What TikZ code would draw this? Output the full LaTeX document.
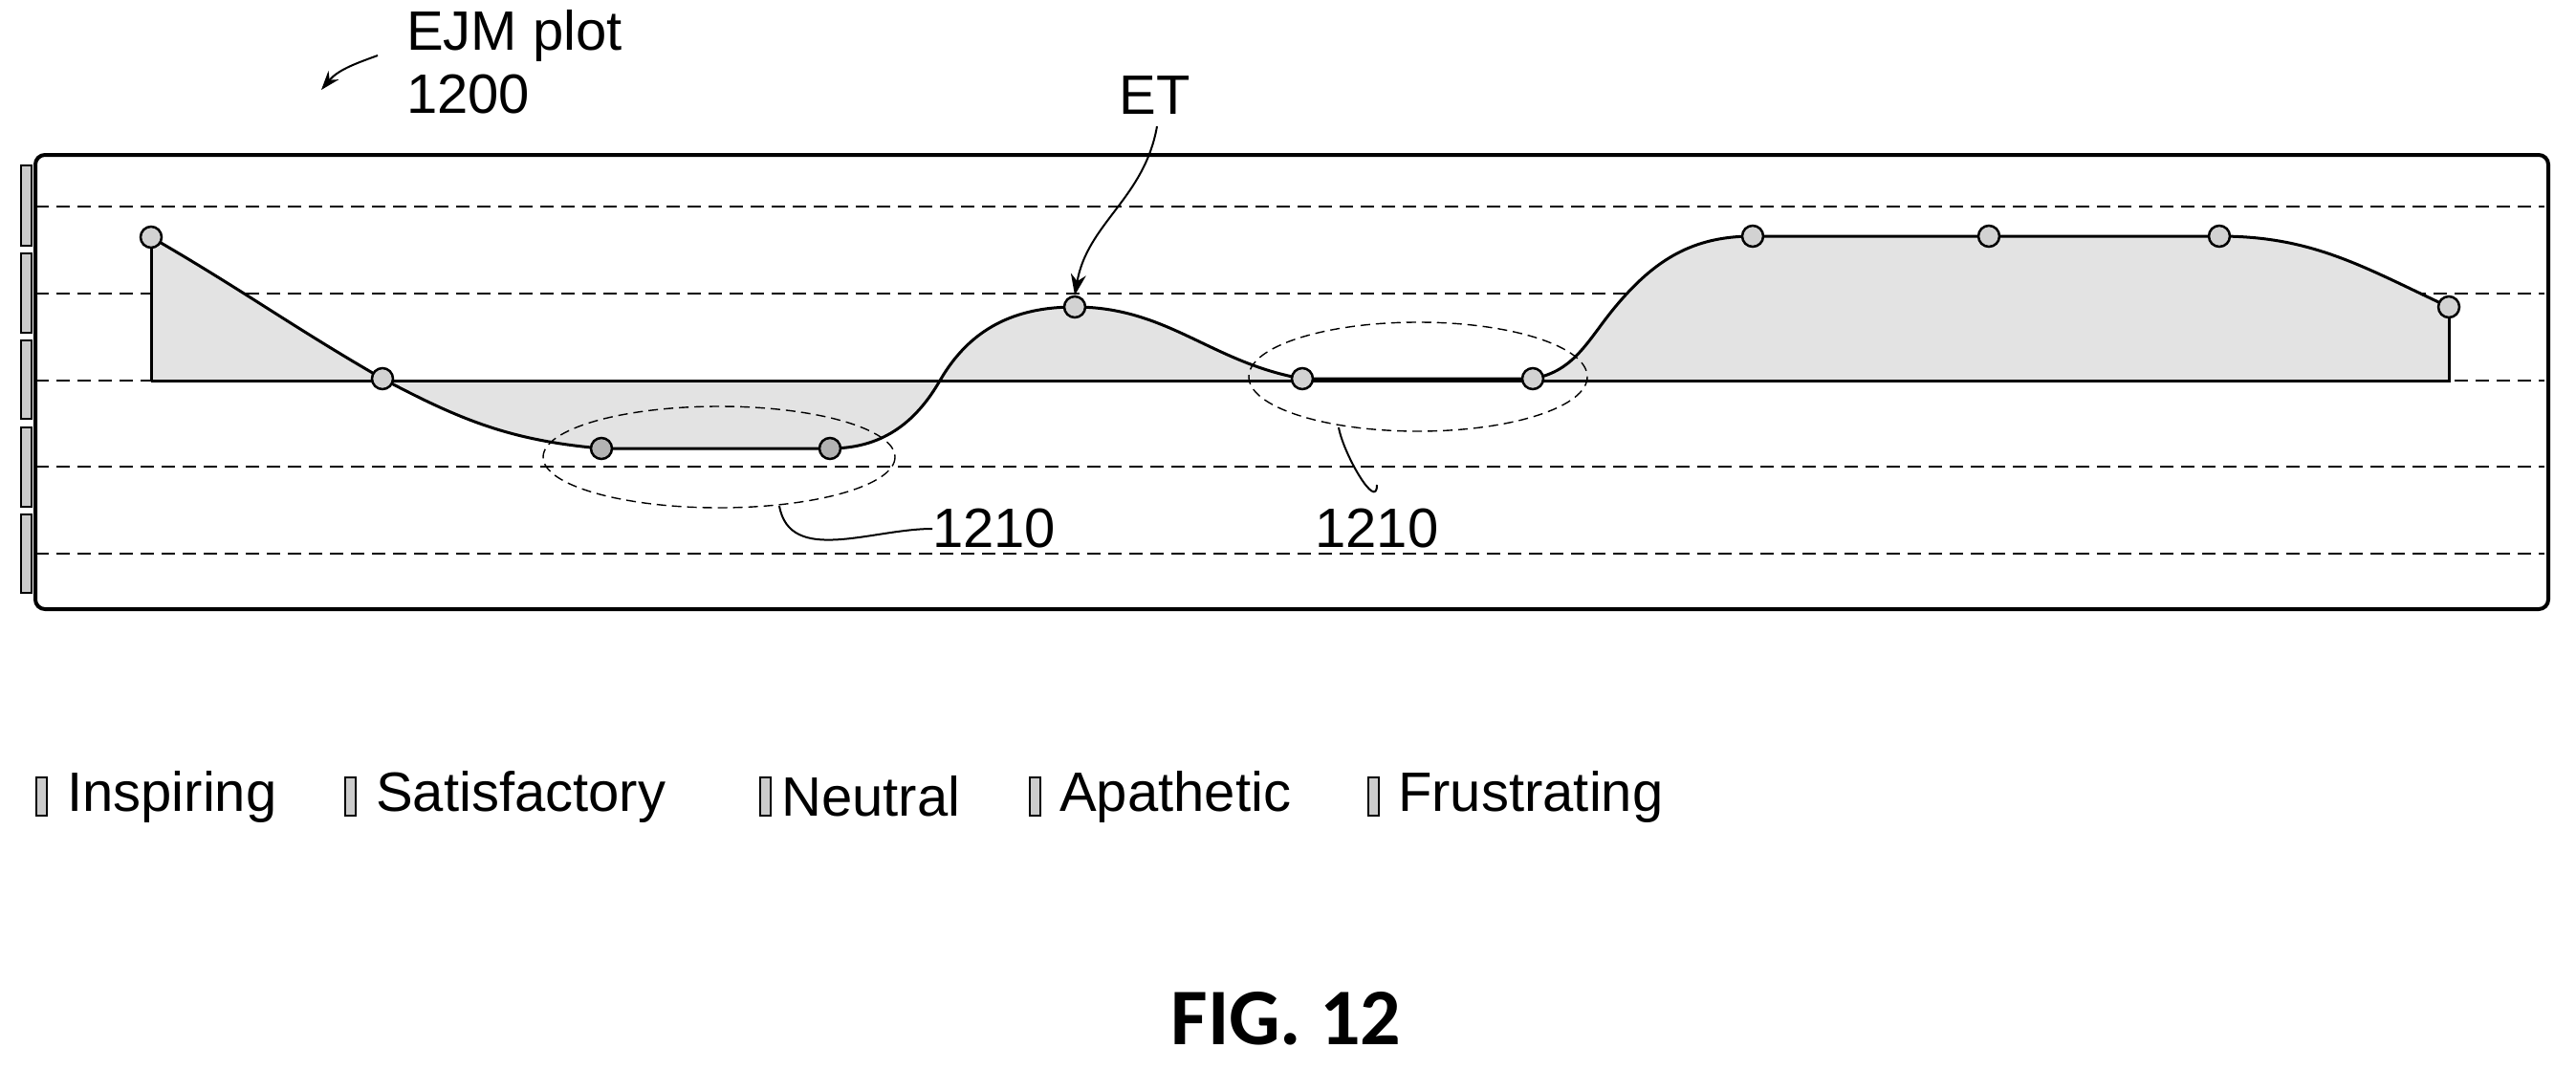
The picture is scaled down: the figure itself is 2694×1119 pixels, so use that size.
\documentclass[tikz,border=0pt]{standalone}
\usepackage{fontspec}
\setmainfont{Liberation Sans}
\newfontfamily\figfont{Carlito}
\usetikzlibrary{arrows.meta}
\begin{document}
\begin{tikzpicture}[x=1pt,y=-1pt,
  dline/.style={densely dashed,line width=1.6pt,dash pattern=on 14pt off 8pt},
  curve/.style={line width=3pt},
  pt/.style={circle,draw,line width=2.5pt,fill=gray!35,minimum size=22pt,inner sep=0pt},
  ptd/.style={pt,fill=gray!60},
  tab/.style={draw,line width=2pt,fill=gray!40},
  lab/.style={font=\fontsize{58}{66}\selectfont,inner sep=0pt},
  leg/.style={draw,line width=2pt,fill=gray!40,minimum width=11pt,minimum height=40pt,inner sep=0pt},
  ell/.style={densely dashed,line width=1.4pt,dash pattern=on 10pt off 6pt}]
\useasboundingbox (0,0) rectangle (2694,1119);
% tabs
\foreach \a/\b in {173/257,265/348,356/438,447/530,538/620}
  \draw[tab] (22,\a) rectangle (33,\b);
% frame
\node[draw,line width=4pt,rounded corners=10pt,minimum width=2628pt,minimum height=475pt,anchor=north west] (frame) at (35,160) {};
% dashed levels
\foreach \y in {216,307,398,488,579} \draw[dline] (37,\y) -- (2661,\y);
% coordinates
\coordinate (c1) at (158,248); \coordinate (c2) at (400,396);
\coordinate (c3) at (629,469); \coordinate (c4) at (868,469);
\coordinate (c5) at (1124,321); \coordinate (c6) at (1362,396);
\coordinate (c7) at (1603,396); \coordinate (c8) at (1833,247);
\coordinate (c9) at (2080,247); \coordinate (c10) at (2321,247);
\coordinate (c11) at (2561,321);
\def\thecurve{(c1) to[out=-30,in=150] (c2) to[out=-28,in=175] (c3) -- (c4) to[out=0,in=-120] (983,398) to[out=60,in=180] (c5) to[out=0,in=170] (c6) -- (c7) to[out=10,in=-130] (1690,320) to[out=50,in=180] (c8) -- (c9) -- (c10) to[out=0,in=155] (c11)}
\fill[gray!22] (158,398) -- \thecurve -- (2561,398) -- cycle;
\draw[curve] (158,398) -- (c1);
\draw[curve] (158,398) -- (2561,398) -- (c11);
\draw[curve] \thecurve;
% points
\foreach \i in {1,2,5,6,7,8,9,10,11} \node[pt] (p\i) at (c\i) {};
\node[ptd] (p3) at (c3) {}; \node[ptd] (p4) at (c4) {};
% ellipses
\draw[ell] (752,478) ellipse [x radius=184,y radius=53];
\draw[ell] (1483,394) ellipse [x radius=177,y radius=57];
% labels 1210
\node[lab,anchor=west] (l1) at (975,553) {1210};
\node[lab] (l2) at (1440,553) {1210};
\draw[line width=2pt] (815,529) to[out=-80,in=180] (l1.west);
\draw[line width=2pt] (1400,447) to[out=-80,in=-90] ++(40,60);
% ET
\node[lab] (et) at (1208,100) {ET};
\draw[line width=2pt,-{Stealth[length=22pt,width=16pt]}] (et.south) ++(2,12) to[out=-100,in=80] (p5.north);
% EJM
\node[lab,anchor=west,align=left] (ejm) at (425,65) {EJM plot\\1200};
\draw[line width=2pt,-{Stealth[length=20pt,width=14pt]}] (395,58) to[out=200,in=50] (336,94);
% legend
\foreach \bx/\t in {43/Inspiring,366/Satisfactory,800/Neutral,1082/Apathetic,1436/Frustrating}
  \node[leg] at (\bx,833) {};
\node[lab,anchor=west] at (70,833) {Inspiring};
\node[lab,anchor=west] at (393,833) {Satisfactory};
\node[lab,anchor=west] at (817,833) {Neutral};
\node[lab,anchor=west] at (1108,833) {Apathetic};
\node[lab,anchor=west] at (1462,833) {Frustrating};
\node[font=\figfont\bfseries\fontsize{84}{90}\selectfont] (fig) at (1345,1065) {FIG. 12};
\end{tikzpicture}
\end{document}
